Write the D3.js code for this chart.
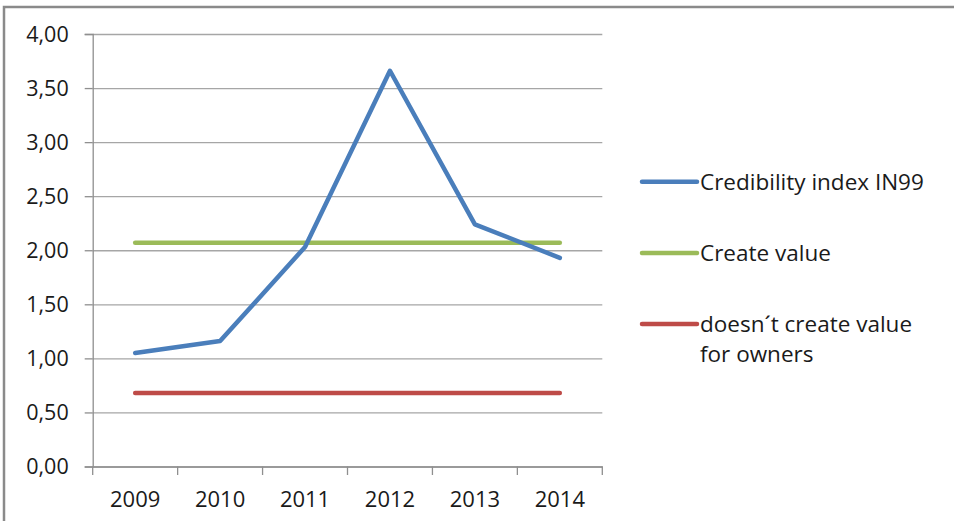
<!DOCTYPE html>
<html>
<head>
<meta charset="utf-8">
<script src="https://cdn.jsdelivr.net/npm/d3@7"></script>
<style>
  html, body { margin: 0; padding: 0; background: #fff; }
  svg { display: block; }
  text { font-family: "Open Sans", "Noto Sans", sans-serif; fill: #1a1a1a; }
</style>
</head>
<body>
<svg id="chart" width="954" height="521"></svg>
<script>
const years = ["2009", "2010", "2011", "2012", "2013", "2014"];
const credibility = [1.05, 1.16, 2.03, 3.66, 2.24, 1.93];
const createValue = [2.07, 2.07, 2.07, 2.07, 2.07, 2.07];
const noValue = [0.68, 0.68, 0.68, 0.68, 0.68, 0.68];
const yTicks = [0, 0.5, 1, 1.5, 2, 2.5, 3, 3.5, 4];
const seriesNames = ["Credibility index IN99", "Create value", "doesn\u00B4t create value|for owners"];
const seriesColors = ["#4a7ebb", "#9bbb59", "#be4b48"];

const svg = d3.select("#chart");

// outer frame
svg.append("rect")
  .attr("x", 4).attr("y", 7)
  .attr("width", 1000).attr("height", 1000)
  .attr("fill", "none").attr("stroke", "#8a8a8a").attr("stroke-width", 2.5);

const plotLeft = 92.7, plotRight = 602.3, plotTop = 34, plotBottom = 466.5;
const x = d3.scaleBand().domain(years).range([plotLeft, plotRight]).padding(0);
const y = d3.scaleLinear().domain([0, 4]).range([plotBottom, plotTop]);
const fmt = v => d3.format(".2f")(v).replace(".", ",");

// gridlines
const grid = svg.append("g").attr("transform", `translate(${plotLeft},0)`)
  .call(d3.axisLeft(y).tickValues(yTicks).tickSize(-(plotRight - plotLeft)).tickFormat(""));
grid.select(".domain").remove();
grid.selectAll("line").attr("stroke", "#a6a6a6").attr("stroke-width", 1.3);

// y axis
const ya = svg.append("g").attr("transform", `translate(${plotLeft},0)`)
  .call(d3.axisLeft(y).tickValues(yTicks).tickSize(8).tickPadding(16).tickFormat(fmt));
ya.select(".domain").attr("stroke", "#8f8f8f").attr("stroke-width", 1.3);
ya.selectAll("line").attr("stroke", "#8f8f8f").attr("stroke-width", 1.3);
ya.selectAll("text")
  .style("font-family", '"Open Sans", sans-serif')
  .attr("font-size", 21.5).attr("fill", "#1a1a1a").attr("dy", "0.33em");

// x axis
const xa = svg.append("g").attr("transform", `translate(0,${plotBottom})`)
  .call(d3.axisBottom(x).tickSize(0).tickPadding(0));
xa.select(".domain").attr("stroke", "#8f8f8f").attr("stroke-width", 1.3);
xa.selectAll("text")
  .style("font-family", '"Open Sans", sans-serif')
  .attr("font-size", 22).attr("fill", "#1a1a1a").attr("y", 40).attr("dy", 0);
// tick marks at category boundaries
const bounds = years.map(d => x(d)).concat([x(years[years.length - 1]) + x.bandwidth()]);
xa.selectAll(".bnd").data(bounds).enter().append("line")
  .attr("x1", d => d).attr("x2", d => d)
  .attr("y1", 0).attr("y2", 8.5)
  .attr("stroke", "#8f8f8f").attr("stroke-width", 1.3);

// lines
const cx = d => x(d) + x.bandwidth() / 2;
const line = d3.line().x((d, i) => cx(years[i])).y(d => y(d));
const allSeries = [credibility, createValue, noValue];
[noValue, createValue, credibility].forEach(s => {
  const idx = allSeries.indexOf(s);
  svg.append("path").datum(s)
    .attr("d", line)
    .attr("fill", "none")
    .attr("stroke", seriesColors[idx])
    .attr("stroke-width", 4.5)
    .attr("stroke-linejoin", "round")
    .attr("stroke-linecap", "round");
});

// legend
const legendY = [181.7, 253, 324];
const lg = svg.append("g");
seriesNames.forEach((name, i) => {
  lg.append("line")
    .attr("x1", 642).attr("x2", 697)
    .attr("y1", legendY[i]).attr("y2", legendY[i])
    .attr("stroke", seriesColors[i]).attr("stroke-width", 4.5)
    .attr("stroke-linecap", "round");
  name.split("|").forEach((part, j) => {
    lg.append("text")
      .attr("x", 700).attr("y", legendY[i] + j * 30)
      .attr("dy", "0.36em")
      .attr("font-size", 22.5)
      .text(part);
  });
});
</script>
</body>
</html>
